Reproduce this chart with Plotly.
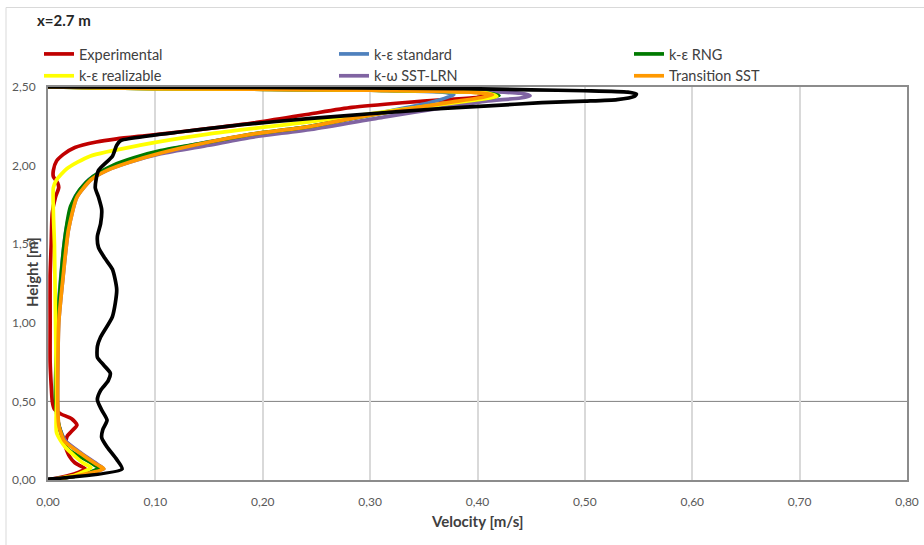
import plotly.graph_objects as go

# ---- velocity profiles at x = 2.7 m : (velocity [m/s], height [m]) ----
exp_vel = [0.000, 0.020, 0.035, 0.030, 0.025, 0.020, 0.016, 0.018, 0.022, 0.027, 0.022, 0.012,
           0.006, 0.004, 0.003, 0.002, 0.002, 0.002, 0.003, 0.004, 0.007, 0.010, 0.009, 0.005,
           0.005, 0.008, 0.014, 0.025, 0.045, 0.064, 0.090, 0.130, 0.190, 0.245, 0.283, 0.330,
           0.370, 0.400, 0.410, 0.400, 0.300, 0.150, 0.000]
exp_h = [0.000, 0.030, 0.070, 0.090, 0.110, 0.150, 0.220, 0.280, 0.310, 0.350, 0.390, 0.420,
         0.450, 0.500, 0.600, 0.750, 1.000, 1.300, 1.500, 1.700, 1.800, 1.860, 1.890, 1.930,
         1.970, 2.030, 2.070, 2.115, 2.150, 2.170, 2.190, 2.220, 2.270, 2.330, 2.370, 2.400,
         2.420, 2.435, 2.450, 2.465, 2.480, 2.490, 2.500]

std_vel = [0.000, 0.030, 0.049, 0.044, 0.030, 0.016, 0.010, 0.008, 0.009, 0.012, 0.017, 0.025,
           0.038, 0.052, 0.072, 0.100, 0.145, 0.190, 0.245, 0.283, 0.320, 0.355, 0.378, 0.370,
           0.300, 0.100, 0.000]
std_h = [0.000, 0.030, 0.075, 0.105, 0.170, 0.250, 0.350, 0.500, 1.000, 1.300, 1.600, 1.800,
         1.910, 1.970, 2.020, 2.080, 2.145, 2.195, 2.250, 2.300, 2.350, 2.400, 2.450, 2.465,
         2.480, 2.490, 2.500]

rng_vel = [0.000, 0.030, 0.047, 0.040, 0.018, 0.010, 0.007, 0.009, 0.015, 0.021, 0.030, 0.042,
           0.060, 0.080, 0.105, 0.150, 0.190, 0.245, 0.283, 0.330, 0.380, 0.410, 0.420, 0.405,
           0.300, 0.100, 0.000]
rng_h = [0.000, 0.030, 0.075, 0.110, 0.200, 0.350, 0.510, 1.000, 1.500, 1.740, 1.850, 1.930,
         2.000, 2.050, 2.095, 2.150, 2.200, 2.250, 2.300, 2.355, 2.405, 2.430, 2.445, 2.465,
         2.480, 2.490, 2.500]

rea_vel = [0.000, 0.025, 0.040, 0.033, 0.016, 0.008, 0.008, 0.007, 0.006, 0.005, 0.005, 0.008,
           0.0175, 0.039, 0.086, 0.149, 0.245, 0.300, 0.350, 0.395, 0.418, 0.410, 0.300, 0.100,
           0.000]
rea_h = [0.000, 0.030, 0.080, 0.107, 0.210, 0.300, 0.500, 1.000, 1.500, 1.700, 1.860, 1.910,
         1.980, 2.060, 2.130, 2.200, 2.280, 2.330, 2.375, 2.415, 2.440, 2.460, 2.480, 2.490,
         2.500]

sst_vel = [0.000, 0.030, 0.052, 0.046, 0.031, 0.016, 0.010, 0.009, 0.010, 0.014, 0.019, 0.027,
           0.040, 0.055, 0.075, 0.105, 0.150, 0.189, 0.245, 0.314, 0.370, 0.408, 0.440, 0.449,
           0.440, 0.350, 0.150, 0.000]
sst_h = [0.000, 0.030, 0.070, 0.100, 0.170, 0.250, 0.350, 0.500, 1.000, 1.290, 1.590, 1.800,
         1.910, 1.970, 2.020, 2.075, 2.130, 2.180, 2.230, 2.310, 2.370, 2.410, 2.430, 2.445,
         2.460, 2.480, 2.490, 2.500]

trn_vel = [0.000, 0.030, 0.052, 0.045, 0.030, 0.015, 0.010, 0.009, 0.010, 0.014, 0.019, 0.027,
           0.040, 0.055, 0.075, 0.105, 0.150, 0.190, 0.245, 0.283, 0.330, 0.377, 0.405, 0.414,
           0.400, 0.300, 0.100, 0.000]
trn_h = [0.000, 0.030, 0.072, 0.100, 0.170, 0.250, 0.350, 0.500, 1.000, 1.290, 1.590, 1.800,
         1.910, 1.970, 2.020, 2.080, 2.150, 2.200, 2.250, 2.300, 2.355, 2.405, 2.435, 2.450,
         2.465, 2.480, 2.490, 2.500]

s7_vel = [0.000, 0.069, 0.064, 0.055, 0.050, 0.051, 0.055, 0.050, 0.046, 0.049, 0.056, 0.058,
          0.052, 0.046, 0.046, 0.049, 0.060, 0.064, 0.060, 0.053, 0.047, 0.046, 0.049, 0.050,
          0.047, 0.044, 0.047, 0.060, 0.064, 0.068, 0.095, 0.130, 0.180, 0.245, 0.300, 0.360,
          0.410, 0.460, 0.500, 0.530, 0.546, 0.548, 0.540, 0.500, 0.450, 0.387, 0.200, 0.000]
s7_h = [0.005, 0.070, 0.130, 0.210, 0.270, 0.320, 0.380, 0.445, 0.510, 0.570, 0.630, 0.680,
        0.730, 0.780, 0.850, 0.910, 1.040, 1.210, 1.340, 1.410, 1.480, 1.550, 1.630, 1.720,
        1.800, 1.860, 1.970, 2.060, 2.130, 2.160, 2.190, 2.220, 2.260, 2.300, 2.330, 2.360,
        2.380, 2.400, 2.410, 2.420, 2.440, 2.455, 2.467, 2.476, 2.482, 2.490, 2.497, 2.500]

x_ticks = [0.0, 0.1, 0.2, 0.3, 0.4, 0.5, 0.6, 0.7, 0.8]
y_ticks = [0.0, 0.5, 1.0, 1.5, 2.0, 2.5]
ref_line_height = 0.5

# (name, velocities, heights, colour, legend rank, show in legend) in drawing order
series = [
    ("Experimental", exp_vel, exp_h, "#C00000", 1, True),
    ("k-ε standard", std_vel, std_h, "#4F81BD", 2, True),
    ("k-ω SST-LRN", sst_vel, sst_h, "#8064A2", 5, True),
    ("k-ε RNG", rng_vel, rng_h, "#007A00", 3, True),
    ("k-ε realizable", rea_vel, rea_h, "#FFFF00", 4, True),
    ("Transition SST", trn_vel, trn_h, "#FF9900", 6, True),
    ("Series7", s7_vel, s7_h, "#000000", 7, False),
]

FONT = "Lato"

fig = go.Figure()
for name, vel, h, col, rank, show in series:
    fig.add_trace(go.Scatter(
        x=vel, y=h, mode="lines", name=name,
        line=dict(color=col, width=3.7, shape="spline", smoothing=0.6),
        legendrank=rank, showlegend=show,
    ))

W, H = 924, 545
L, R, T, B = 48, 17, 87, 65
pw, ph = W - L - R, H - T - B


def px_x(px):
    return (px - L) / pw


def px_y(py):
    return (H - B - py) / ph


fig.update_layout(
    width=W, height=H,
    margin=dict(l=L, r=R, t=T, b=B, autoexpand=False),
    paper_bgcolor="white", plot_bgcolor="white",
    separators=", ",
    font=dict(family=FONT, size=12, color="#404040"),
    legend=dict(
        orientation="h", x=px_x(39), xanchor="left", y=px_y(38), yanchor="top",
        entrywidth=250, entrywidthmode="pixels", traceorder="normal",
        font=dict(family=FONT, size=14.5, color="#404040"),
        bgcolor="rgba(0,0,0,0)", itemwidth=30,
    ),
    xaxis=dict(
        range=[0, 0.8], tickvals=x_ticks, tickformat=".2f",
        showgrid=True, gridcolor="#D9D9D9", gridwidth=1.5,
        showline=True, mirror=True, linecolor="#8C8C8C", linewidth=2,
        zeroline=False, ticks="", ticklabelstandoff=10,
        tickfont=dict(family=FONT, size=12, color="#595959"),
    ),
    yaxis=dict(
        range=[0, 2.5], tickvals=y_ticks, tickformat=".2f",
        showgrid=False,
        showline=True, mirror=True, linecolor="#8C8C8C", linewidth=2,
        zeroline=False, ticks="", ticklabelstandoff=8,
        tickfont=dict(family=FONT, size=12, color="#595959"),
    ),
    shapes=[
        dict(type="line", xref="paper", yref="y", x0=0, x1=1,
             y0=ref_line_height, y1=ref_line_height,
             line=dict(color="#808080", width=1), layer="below"),
        dict(type="rect", xref="paper", yref="paper",
             x0=px_x(6), x1=px_x(930), y0=px_y(552), y1=px_y(7.5),
             line=dict(color="#D9D9D9", width=1), fillcolor="rgba(0,0,0,0)"),
    ],
    annotations=[
        dict(text="<b>x=2.7 m</b>", xref="paper", yref="paper",
             x=px_x(35), y=px_y(20), xanchor="left", yanchor="middle",
             showarrow=False, font=dict(family=FONT, size=15, color="#262626")),
        dict(text="<b>Velocity [m/s]</b>", xref="paper", yref="paper",
             x=0.5, y=px_y(521), xanchor="center", yanchor="middle",
             showarrow=False, font=dict(family=FONT, size=15, color="#404040")),
        dict(text="<b>Height [m]</b>", xref="paper", yref="paper",
             x=px_x(32), y=px_y(272), xanchor="center", yanchor="middle",
             textangle=-90, showarrow=False,
             font=dict(family=FONT, size=15, color="#404040")),
    ],
)

fig.write_html("out.html")
